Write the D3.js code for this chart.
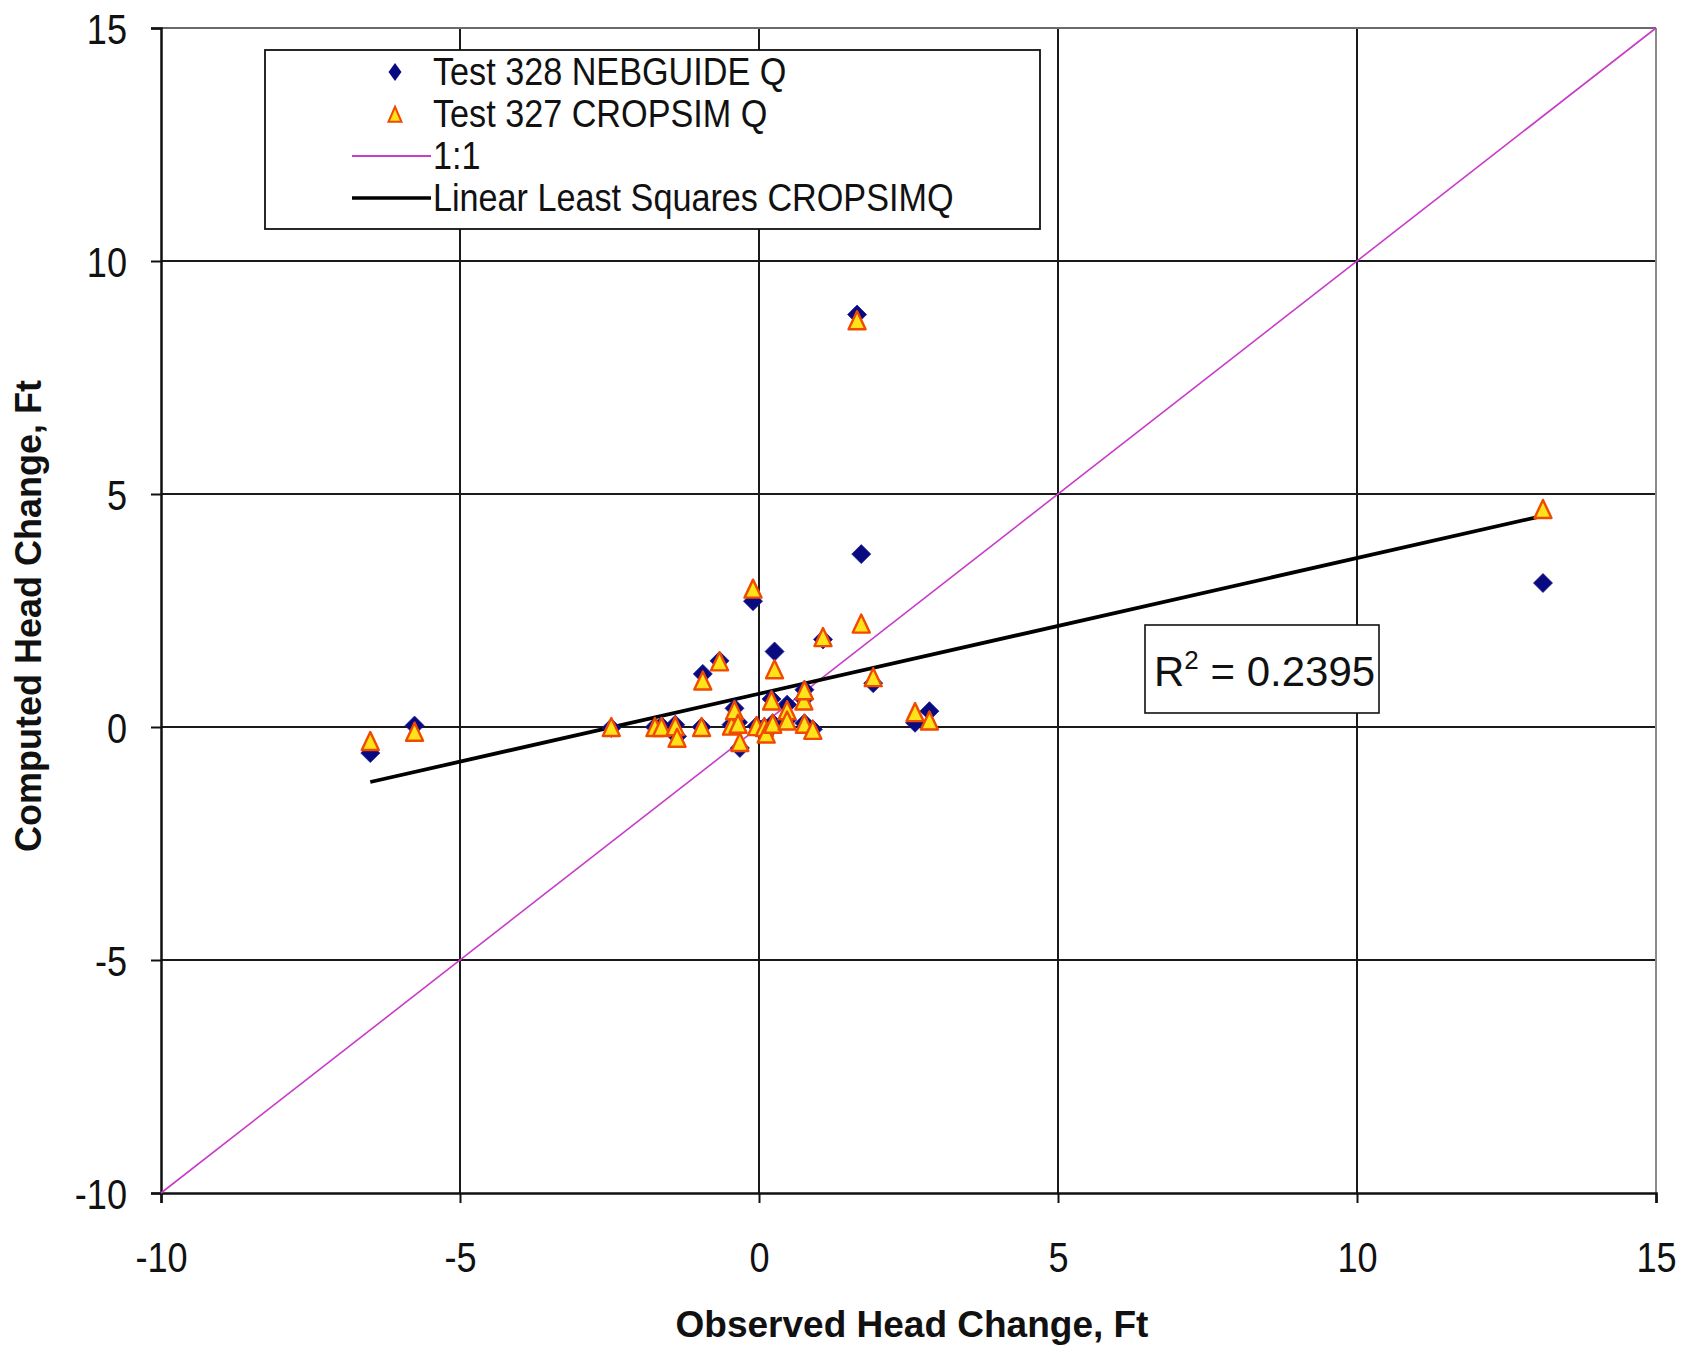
<!DOCTYPE html>
<html>
<head>
<meta charset="utf-8">
<script src="https://cdn.jsdelivr.net/npm/d3@7/dist/d3.min.js"></script>
<style>
  html, body { margin: 0; padding: 0; background: #fff; }
  svg { display: block; }
  .lbl { font-family: "Liberation Sans", Arial, sans-serif; fill: #111; }
  .ttl { font-family: "Liberation Sans", Arial, sans-serif; font-weight: bold; fill: #111; }
</style>
</head>
<body>
<svg id="chart" width="1689" height="1347"></svg>
<script>
// Observed head change (ft) for each well, shared by both model runs
const observed = [-6.5, -5.76, -2.47, -1.74, -1.63, -1.40, -1.37, -0.96, -0.94, -0.66,
                  -0.46, -0.41, -0.35, -0.32, -0.10, -0.04, 0.09, 0.12, 0.21, 0.23,
                  0.26, 0.47, 0.47, 0.75, 0.76, 0.76, 0.90, 1.07, 1.64, 1.71,
                  1.91, 2.61, 2.85, 13.11];
// Computed head change, Test 328 NEBGUIDE Q
const nebguideQ = [-0.56, 0.03, -0.02, 0.00, 0.02, 0.05, -0.20, 0.00, 1.14, 1.42,
                   0.05, 0.40, 0.10, -0.45, 2.70, 0.02, 0.00, -0.12, 0.60, 0.08,
                   1.62, 0.48, 0.15, 0.60, 0.80, 0.08, -0.05, 1.88, 8.85, 3.71,
                   0.94, 0.09, 0.34, 3.09];
// Computed head change, Test 327 CROPSIM Q
const cropsimQ = [-0.32, -0.12, -0.02, -0.02, -0.02, 0.00, -0.25, -0.02, 0.98, 1.39,
                  0.01, 0.34, 0.05, -0.34, 2.95, 0.00, -0.02, -0.16, 0.55, 0.05,
                  1.22, 0.34, 0.12, 0.55, 0.77, 0.05, -0.08, 1.91, 8.71, 2.20,
                  1.05, 0.30, 0.12, 4.66];

const xTicks = [-10, -5, 0, 5, 10, 15];
const yTicks = [-10, -5, 0, 5, 10, 15];

// Linear least-squares fit of CROPSIM Q against observed
const fitSlope = 0.2913;
const fitIntercept = 0.713;
const rSquared = 0.2395;

const legendItems = [
  { label: "Test 328 NEBGUIDE Q", kind: "diamond" },
  { label: "Test 327  CROPSIM Q", kind: "triangle" },
  { label: "1:1", kind: "oneToOne" },
  { label: "Linear Least Squares CROPSIMQ", kind: "fit" }
];

const svg = d3.select("#chart");
const x = d3.scaleLinear().domain([-10, 15]).range([161, 1656]);
const y = d3.scaleLinear().domain([-10, 15]).range([1193, 28]);

const diamondPath = r => `M0,${-r}L${r},0L0,${r}L${-r},0Z`;
const trianglePath = (w, h) => `M0,${-h * 0.55}L${w},${h * 0.45}L${-w},${h * 0.45}Z`;

// Squeeze text horizontally around its own anchor point
function condense(sel, sx) {
  sel.each(function () {
    const t = d3.select(this);
    const tx = +t.attr("x") || 0, ty = +t.attr("y") || 0;
    t.attr("x", 0).attr("y", 0)
      .attr("transform", `translate(${tx},${ty}) scale(${sx},1)`);
  });
}

const colNavy = "#0a0a80";
const colTriFill = "#ffe21a";
const colTriStroke = "#f04a00";
const colMagenta = "#c83cc8";

// Grid lines
const grid = svg.append("g");
grid.selectAll("line.vx").data(xTicks.filter(d => d > -10 && d < 15)).join("line")
  .attr("x1", d => x(d)).attr("x2", d => x(d))
  .attr("y1", y(15)).attr("y2", y(-10))
  .attr("stroke", "#1a1a1a").attr("stroke-width", 2);
grid.selectAll("line.hy").data(yTicks.filter(d => d > -10 && d < 15)).join("line")
  .attr("x1", x(-10)).attr("x2", x(15))
  .attr("y1", d => y(d)).attr("y2", d => y(d))
  .attr("stroke", "#1a1a1a").attr("stroke-width", 2);

// Plot frame: top and right edges lighter
svg.append("line").attr("x1", x(-10)).attr("x2", x(15)).attr("y1", y(15)).attr("y2", y(15))
  .attr("stroke", "#6a6a6a").attr("stroke-width", 2);
svg.append("line").attr("x1", x(15)).attr("x2", x(15)).attr("y1", y(15)).attr("y2", y(-10))
  .attr("stroke", "#8a8a8a").attr("stroke-width", 2);

// Axes
const fmt = d => String(d);
const xAxis = d3.axisBottom(x).tickValues(xTicks).tickSize(10).tickFormat(fmt);
const yAxis = d3.axisLeft(y).tickValues(yTicks).tickSize(10).tickFormat(fmt);

const gx = svg.append("g").attr("transform", `translate(0,${y(-10)})`).call(xAxis);
const gy = svg.append("g").attr("transform", `translate(${x(-10)},0)`).call(yAxis);
[gx, gy].forEach(g => {
  g.select(".domain").attr("stroke", "#111").attr("stroke-width", 2.5);
  g.selectAll(".tick line").attr("stroke", "#111").attr("stroke-width", 2);
  g.selectAll(".tick text").attr("class", "lbl").attr("font-size", 42).attr("fill", "#111");
});
gx.selectAll(".tick text").attr("dy", 0).attr("y", 79).call(condense, 0.86);
gy.selectAll(".tick text").attr("x", -34).attr("dy", "0.36em").call(condense, 0.86);

// 1:1 line
svg.append("line")
  .attr("x1", x(-10)).attr("y1", y(-10)).attr("x2", x(15)).attr("y2", y(15))
  .attr("stroke", colMagenta).attr("stroke-width", 1.6);

// Least-squares line over the observed range
const [xmin, xmax] = d3.extent(observed);
svg.append("line")
  .attr("x1", x(xmin)).attr("y1", y(fitIntercept + fitSlope * xmin))
  .attr("x2", x(xmax)).attr("y2", y(fitIntercept + fitSlope * xmax))
  .attr("stroke", "#000").attr("stroke-width", 3.8);

// NEBGUIDE Q points
svg.append("g").selectAll("path").data(observed).join("path")
  .attr("d", diamondPath(9.5))
  .attr("transform", (d, i) => `translate(${x(d)},${y(nebguideQ[i])})`)
  .attr("fill", colNavy).attr("stroke", "#1a1a9a").attr("stroke-width", 0.8);

// CROPSIM Q points
svg.append("g").selectAll("path").data(observed).join("path")
  .attr("d", trianglePath(8.5, 18))
  .attr("transform", (d, i) => `translate(${x(d)},${y(cropsimQ[i])})`)
  .attr("fill", colTriFill).attr("stroke", colTriStroke).attr("stroke-width", 2.4)
  .attr("stroke-linejoin", "round");

// R² annotation
const rBox = svg.append("g").attr("transform", "translate(1145,625)");
rBox.append("rect").attr("width", 234).attr("height", 88)
  .attr("fill", "#fff").attr("stroke", "#111").attr("stroke-width", 1.6);
const rt = rBox.append("text").attr("class", "lbl").attr("x", 9).attr("y", 61).attr("font-size", 42);
rt.append("tspan").text("R");
rt.append("tspan").attr("font-size", 26).attr("dy", -17).text("2");
rt.append("tspan").attr("dy", 17).text(" = " + rSquared.toFixed(4));

// Legend
const lg = svg.append("g").attr("transform", "translate(265,50)");
lg.append("rect").attr("width", 775).attr("height", 179)
  .attr("fill", "#fff").attr("stroke", "#111").attr("stroke-width", 1.8);
const rows = lg.selectAll("g.row").data(legendItems).join("g")
  .attr("transform", (d, i) => `translate(0,${22 + i * 42})`);
rows.each(function (d) {
  const g = d3.select(this);
  if (d.kind === "diamond") {
    g.append("path").attr("d", "M0,-9L6.5,0L0,9L-6.5,0Z")
      .attr("transform", "translate(130,0)").attr("fill", colNavy);
  } else if (d.kind === "triangle") {
    g.append("path").attr("d", trianglePath(6.5, 15))
      .attr("transform", "translate(130,1)")
      .attr("fill", colTriFill).attr("stroke", colTriStroke).attr("stroke-width", 2);
  } else if (d.kind === "oneToOne") {
    g.append("line").attr("x1", 87).attr("x2", 166).attr("y1", 0).attr("y2", 0)
      .attr("stroke", colMagenta).attr("stroke-width", 1.8);
  } else {
    g.append("line").attr("x1", 87).attr("x2", 166).attr("y1", 0).attr("y2", 0)
      .attr("stroke", "#000").attr("stroke-width", 3.5);
  }
  g.append("text").attr("class", "lbl").attr("x", 168).attr("y", 13)
    .attr("font-size", 38).text(d.label).call(condense, 0.9);
});

// Axis titles
svg.append("text").attr("class", "ttl").attr("x", 912).attr("y", 1337)
  .attr("text-anchor", "middle").attr("font-size", 37).text("Observed Head Change, Ft");
svg.append("text").attr("class", "ttl")
  .attr("transform", "translate(41,616) rotate(-90)")
  .attr("text-anchor", "middle").attr("font-size", 36).text("Computed Head Change, Ft");
</script>
</body>
</html>
